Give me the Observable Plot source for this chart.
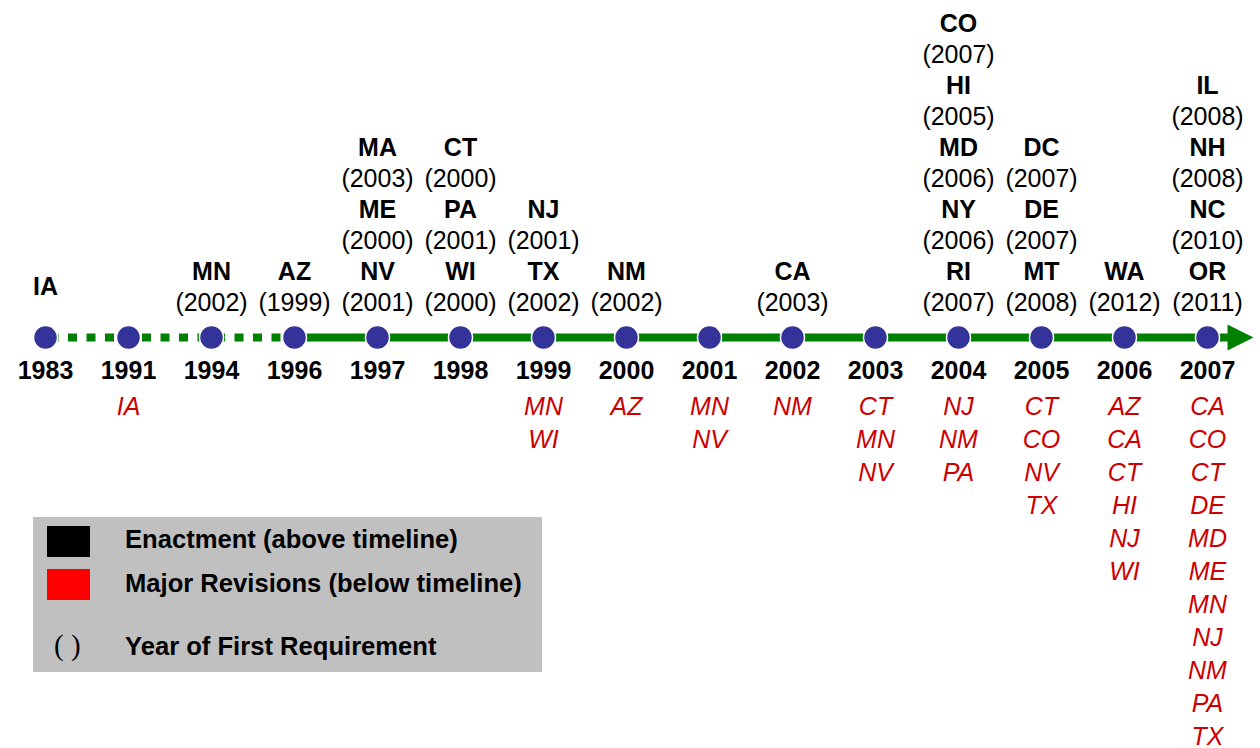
<!DOCTYPE html>
<html>
<head>
<meta charset="utf-8">
<script src="https://cdn.jsdelivr.net/npm/d3@7"></script>
<script src="https://cdn.jsdelivr.net/npm/@observablehq/plot@0.6"></script>
<style>
  html, body { margin: 0; padding: 0; background: #fff; }
  #wrap { position: relative; width: 1260px; height: 748px; font-family: "Liberation Sans", Arial, sans-serif; }
  #legend { position: absolute; left: 33px; top: 517px; width: 509px; height: 155px; background: #c0c0c0; }
  #legend .sw { position: absolute; left: 14px; width: 43px; height: 31px; }
  #legend .lab { position: absolute; left: 92px; font-weight: bold; font-size: 25.6px; color: #000; line-height: 1; white-space: nowrap; }
  #legend .par { position: absolute; left: 21px; font-family: "Liberation Serif", "Times New Roman", serif; font-size: 29px; line-height: 1; }
</style>
</head>
<body>
<div id="wrap">
  <div id="chart"></div>
  <div id="legend">
    <div class="sw" style="top:9px;background:#000;"></div>
    <div class="lab" style="top:10px;">Enactment (above timeline)</div>
    <div class="sw" style="top:52px;background:#ff0000;"></div>
    <div class="lab" style="top:54px;">Major Revisions (below timeline)</div>
    <div class="par" style="top:114px;">( )</div>
    <div class="lab" style="top:117px;">Year of First Requirement</div>
  </div>
</div>
<script>
// Timeline years (tick labels)
const years = ["1983","1991","1994","1996","1997","1998","1999","2000","2001","2002","2003","2004","2005","2006","2007"];

// Enactments (above the timeline), listed top to bottom within each year
const enactYear  = ["1983","1994","1996","1997","1997","1997","1998","1998","1998","1999","1999","2000","2002","2004","2004","2004","2004","2004","2005","2005","2005","2006","2007","2007","2007","2007"];
const enactState = ["IA","MN","AZ","MA","ME","NV","CT","PA","WI","NJ","TX","NM","CA","CO","HI","MD","NY","RI","DC","DE","MT","WA","IL","NH","NC","OR"];
const firstRequirement = [null,"2002","1999","2003","2000","2001","2000","2001","2000","2001","2002","2002","2003","2007","2005","2006","2006","2007","2007","2007","2008","2012","2008","2008","2010","2011"];

// Major revisions (below the timeline), listed top to bottom within each year
const revisionYear  = ["1991","1999","1999","2000","2001","2001","2002","2003","2003","2003","2004","2004","2004","2005","2005","2005","2005","2006","2006","2006","2006","2006","2006","2007","2007","2007","2007","2007","2007","2007","2007","2007","2007","2007"];
const revisionState = ["IA","MN","WI","AZ","MN","NV","NM","CT","MN","NV","NJ","NM","PA","CT","CO","NV","TX","AZ","CA","CT","HI","NJ","WI","CA","CO","CT","DE","MD","ME","MN","NJ","NM","PA","TX"];

// Row tables: row 0 = timeline, positive rows stack upward, row -1 = year labels, rows <= -2 stack downward
const enactCount = d3.rollup(enactYear, v => v.length, d => d);
const enactSeen = new Map();
const stateRows = [], reqRows = [];
enactYear.forEach((y, i) => {
  const k = enactSeen.get(y) || 0; enactSeen.set(y, k + 1);
  const n = enactCount.get(y);
  if (firstRequirement[i] == null) {
    stateRows.push({year: y, row: 1.5, label: enactState[i]});
  } else {
    stateRows.push({year: y, row: 2 * (n - k), label: enactState[i]});
    reqRows.push({year: y, row: 2 * (n - k) - 1, label: "(" + firstRequirement[i] + ")"});
  }
});
const revSeen = new Map();
const revRows = revisionYear.map((y, i) => {
  const k = revSeen.get(y) || 0; revSeen.set(y, k + 1);
  return {year: y, row: -(k + 2), label: revisionState[i]};
});

// Row pitch: lines above the timeline are set a little tighter than those below
const pitchAbove = 31, pitchBelow = 33;
const rowLevel = r => r > 0 ? 35 + (r - 1) * pitchAbove
                   : r === 0 ? 0
                   : r === -1 ? -pitchBelow
                   : -(69 + (-r - 2) * pitchBelow);

// Arrowhead symbol pointing right, with a short stem
const arrowHead = {
  draw(ctx, size) {
    const r = Math.sqrt(size / Math.PI);
    ctx.moveTo(-r - 22, -4);
    ctx.lineTo(-r, -4);
    ctx.lineTo(-r, -r);
    ctx.lineTo(r, 0);
    ctx.lineTo(-r, r);
    ctx.lineTo(-r, 4);
    ctx.lineTo(-r - 22, 4);
    ctx.closePath();
  }
};

const font = "Liberation Sans, Arial, sans-serif";
const green = "#008000";

const chart = Plot.plot({
  width: 1260,
  height: 748,
  margin: 0,
  style: {fontFamily: font, background: "white"},
  x: {type: "point", domain: years, range: [40, 1212], padding: 0, axis: null},
  y: {type: "linear", transform: rowLevel, domain: [-411, 337], range: [748, 0], axis: null},
  marks: [
    Plot.line(years.slice(0, 4), {x: d => d, y: 0, stroke: green, strokeWidth: 8, strokeLinecap: "butt", strokeDasharray: "9,9.5", strokeDashoffset: -4}),
    Plot.line(years.slice(3), {x: d => d, y: 0, stroke: green, strokeWidth: 8, strokeLinecap: "butt"}),
    Plot.dot(years.slice(-1), {x: d => d, y: 0, r: 13, symbol: arrowHead, fill: green, dx: 33}),
    Plot.dot(years, {x: d => d, y: 0, r: 12, fill: "#333399", stroke: "white", strokeWidth: 1.5}),
    Plot.text(years, {x: d => d, y: -1, text: d => d, fontSize: 25, fontWeight: "bold", fill: "black", fontFamily: font}),
    Plot.text(stateRows, {x: "year", y: "row", text: "label", fontSize: 25, fontWeight: "bold", fill: "black", fontFamily: font}),
    Plot.text(reqRows, {x: "year", y: "row", text: "label", fontSize: 25, fill: "black", fontFamily: font}),
    Plot.text(revRows, {x: "year", y: "row", text: "label", fontSize: 25, fontStyle: "italic", fill: "#cc0000", fontFamily: font})
  ]
});
document.getElementById("chart").appendChild(chart);
</script>
</body>
</html>
